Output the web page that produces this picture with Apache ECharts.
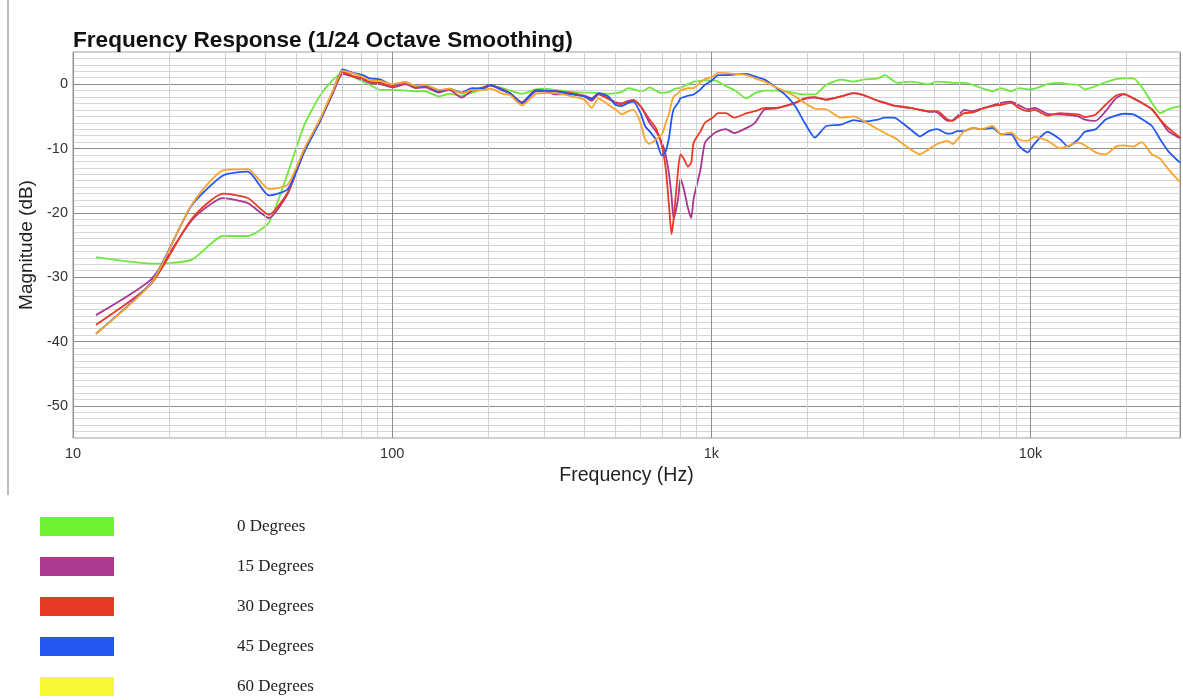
<!DOCTYPE html>
<html>
<head>
<meta charset="utf-8">
<script src="https://cdn.jsdelivr.net/npm/echarts@6/dist/echarts.min.js"></script>
<style>
  html, body { margin: 0; padding: 0; background: #fff; }
  #chart { width: 1183px; height: 700px; }
</style>
</head>
<body>
<div id="chart"></div>
<script>
// ---- Data ----
const seriesNames = ['0 Degrees', '15 Degrees', '30 Degrees', '45 Degrees', '60 Degrees'];
const lineColors = ['#6ee83c', '#a8368f', '#e83a25', '#2458ee', '#f7a52c'];
const legendColors = ['#70f232', '#ab3a8e', '#e63b24', '#2456f2', '#f8f835'];

const xTickValues = [10, 100, 1000, 10000];
const xTickLabels = ['10', '100', '1k', '10k'];
const xMinorGrid = [20, 30, 40, 50, 60, 70, 80, 90, 200, 300, 400, 500, 600, 700, 800, 900,
  2000, 3000, 4000, 5000, 6000, 7000, 8000, 9000, 20000];

const freqHz = [11.8, 17.6, 23.5, 29.5, 35.3, 41.1, 47.1, 53.1, 59.2, 65, 70, 75, 81, 85, 92, 100, 110, 119, 127, 140,
  151, 165, 178, 192, 203, 222, 234, 255, 282, 300, 325, 366, 400, 422, 443, 476, 500, 524, 550, 570,
  600, 620, 640, 670, 700, 720, 738, 750, 762, 787, 800, 820, 845, 865, 880, 925, 955, 1010, 1050, 1110,
  1180, 1290, 1370, 1470, 1580, 1700, 1830, 1960, 2110, 2290, 2550, 2790, 3000, 3330, 3500, 3700, 3820, 4200, 4500, 4800,
  5100, 5500, 5700, 5900, 6200, 6600, 7000, 7600, 8100, 8700, 9200, 9800, 10300, 11300, 12400, 13100, 14100, 14800, 16000, 17200,
  18500, 19600, 21000, 22300, 24000, 25500, 27000, 29400];

const deg0 = [-26.9, -27.9, -27.3, -23.6, -23.6, -21.5, -13.8, -6.3, -1.9, 0.6, 1.7, 1.2, 0.4, -0.1, -0.9, -0.9, -1.0, -1.1, -1.1, -1.9,
  -1.5, -1.8, -1.3, -0.8, -0.3, -0.6, -1.0, -1.5, -0.8, -0.7, -0.9, -1.2, -1.3, -1.3, -1.4, -1.5, -1.4, -1.2, -0.6, -0.8,
  -1.1, -0.9, -0.5, -1.0, -1.4, -1.3, -1.2, -1.0, -0.8, -0.6, -0.6, -0.3, 0.0, 0.2, 0.4, 0.5, 0.6, 0.6, 0.4, -0.3,
  -0.9, -2.2, -1.4, -1.0, -1.0, -1.1, -1.4, -1.6, -1.6, -0.1, 0.7, 0.4, 0.7, 0.9, 1.4, 0.6, 0.2, 0.4, 0.2, 0.0,
  0.4, 0.3, 0.2, 0.2, 0.2, -0.1, -0.6, -1.1, -0.6, -1.1, -0.6, -0.8, -0.7, 0.0, 0.2, 0.0, -0.1, -0.8, -0.3, 0.3,
  0.8, 0.9, 0.9, -0.4, -2.9, -4.5, -3.9, -3.4];

const deg15 = [-35.9, -30.3, -21.2, -17.7, -18.5, -20.8, -17.0, -10.3, -5.9, -1.6, 1.6, 1.2, 0.7, 0.2, 0.0, -0.5, 0.0, -0.6, -0.5, -1.3,
  -0.9, -2.1, -1.0, -0.7, -0.2, -1.0, -1.4, -3.0, -1.1, -1.1, -1.6, -1.5, -1.8, -2.2, -1.5, -2.2, -2.8, -3.0, -2.6, -2.5,
  -3.4, -4.6, -6.0, -7.3, -9.1, -11.1, -14.2, -17.3, -20.9, -17.8, -14.7, -16.3, -19.3, -20.8, -17.8, -13.2, -9.1, -7.8, -7.3, -7.0,
  -7.6, -6.8, -6.0, -3.9, -3.8, -3.4, -2.9, -2.3, -2.1, -2.4, -1.9, -1.4, -1.7, -2.6, -2.9, -3.3, -3.4, -3.7, -4.0, -4.3,
  -4.4, -5.7, -5.6, -5.0, -4.0, -4.2, -3.8, -3.3, -2.9, -2.7, -3.3, -3.9, -3.7, -4.6, -4.7, -4.8, -5.0, -5.5, -5.7, -4.2,
  -2.2, -1.6, -2.2, -2.9, -3.9, -5.6, -7.3, -8.4];

const deg30 = [-37.4, -31.0, -21.0, -17.0, -17.7, -20.3, -16.8, -10.2, -5.8, -1.4, 1.9, 1.3, 0.9, 0.4, 0.2, -0.4, 0.2, -0.5, -0.3, -1.1,
  -0.8, -1.4, -0.9, -0.5, -0.1, -0.8, -1.4, -2.8, -0.9, -1.0, -1.1, -1.4, -1.9, -2.6, -1.6, -2.3, -2.9, -3.1, -2.7, -2.5,
  -3.4, -4.5, -5.5, -6.8, -9.6, -13.2, -19.3, -23.3, -20.9, -13.2, -10.9, -11.6, -12.8, -12.2, -9.1, -7.3, -6.0, -5.2, -4.5, -4.5,
  -5.2, -4.5, -4.2, -3.7, -3.7, -3.4, -2.9, -2.2, -2.0, -2.4, -1.9, -1.4, -1.7, -2.6, -2.9, -3.3, -3.4, -3.7, -4.0, -4.2,
  -4.2, -5.5, -5.7, -5.2, -4.5, -4.4, -3.9, -3.4, -3.2, -2.9, -3.7, -4.2, -4.0, -4.9, -4.5, -4.6, -4.7, -5.1, -4.7, -3.2,
  -1.8, -1.5, -2.2, -2.9, -3.9, -5.5, -6.8, -8.3];

const deg45 = [-38.8, -30.8, -18.9, -14.2, -13.6, -17.3, -16.3, -10.5, -5.9, -1.3, 2.3, 1.8, 1.4, 0.9, 0.7, -0.1, 0.3, -0.4, -0.2, -1.1,
  -0.7, -1.3, -0.6, -0.7, -0.1, -0.9, -1.4, -2.9, -1.0, -1.0, -1.1, -1.6, -1.9, -2.4, -1.4, -1.9, -3.2, -3.4, -2.9, -2.7,
  -4.5, -6.5, -7.3, -8.6, -11.1, -10.4, -8.1, -5.5, -3.9, -2.9, -2.2, -2.0, -1.8, -1.7, -1.6, -0.8, -0.1, 0.7, 1.4, 1.4,
  1.5, 1.6, 1.2, 0.7, -0.4, -1.6, -3.4, -6.0, -8.3, -6.5, -6.3, -5.6, -5.8, -5.5, -5.2, -5.2, -5.4, -7.0, -8.1, -7.3,
  -7.0, -7.7, -7.6, -7.3, -7.3, -6.8, -7.0, -6.8, -7.8, -7.8, -9.6, -10.6, -9.2, -7.4, -8.6, -9.7, -8.6, -7.4, -7.0, -5.5,
  -4.9, -4.6, -4.7, -5.4, -6.5, -8.6, -10.4, -12.2];

const deg60 = [-38.8, -30.9, -18.8, -13.4, -13.2, -16.3, -15.6, -10.0, -5.6, -1.2, 2.1, 1.7, 1.1, 0.6, 0.5, 0.0, 0.3, -0.3, -0.1, -0.9,
  -0.7, -1.4, -0.9, -0.9, -0.7, -1.5, -1.7, -3.3, -1.5, -1.4, -1.4, -1.9, -2.4, -3.7, -2.2, -3.2, -3.9, -4.7, -4.2, -4.0,
  -6.0, -8.6, -9.3, -8.6, -7.8, -6.0, -4.5, -2.9, -1.9, -1.4, -1.0, -0.8, -0.6, -0.6, -0.6, 0.3, 0.8, 1.2, 1.8, 1.7,
  1.6, 1.4, 0.9, 0.4, -0.4, -1.1, -1.9, -2.9, -3.8, -3.9, -5.2, -5.0, -5.7, -7.0, -7.6, -8.2, -8.6, -10.1, -10.9, -10.1,
  -9.3, -8.8, -9.3, -8.6, -7.3, -6.8, -7.0, -6.5, -7.8, -7.5, -8.6, -8.8, -8.2, -8.8, -10.0, -9.6, -9.1, -9.5, -10.6, -10.9,
  -9.7, -9.5, -9.7, -9.0, -10.9, -11.6, -13.2, -15.2];

const seriesValues = [deg0, deg15, deg30, deg45, deg60];

// ---- Chart ----
const chart = echarts.init(document.getElementById('chart'), null, { renderer: 'canvas' });

const FONT = "'Liberation Sans', Arial, sans-serif";

const lineSeries = seriesNames.map((name, i) => ({
  name: name,
  type: 'line',
  data: freqHz.map((f, k) => [f, seriesValues[i][k]]),
  showSymbol: false,
  smooth: 0.2,
  lineStyle: { color: lineColors[i], width: 1.8 },
  itemStyle: { color: lineColors[i] },
  emphasis: { disabled: true },
  z: 3 + i
}));

const gridSeries = {
  name: 'minor-grid',
  type: 'line',
  data: [],
  silent: true,
  z: 1,
  markLine: {
    silent: true,
    symbol: ['none', 'none'],
    label: { show: false },
    lineStyle: { color: '#d2d2d2', width: 1, type: 'solid' },
    emphasis: { disabled: true },
    animation: false,
    data: xMinorGrid.map(v => ({ xAxis: v }))
  }
};

const option = {
  animation: false,
  backgroundColor: '#ffffff',
  title: {
    text: 'Frequency Response (1/24 Octave Smoothing)',
    left: 73,
    top: 29,
    padding: 0,
    textStyle: { fontFamily: FONT, fontSize: 22.6, fontWeight: 'bold', color: '#111' }
  },
  legend: {
    orient: 'vertical',
    left: 40,
    top: 517,
    height: 183,
    padding: 0,
    itemWidth: 74,
    itemHeight: 19,
    itemGap: 21,
    icon: 'rect',
    selectedMode: false,
    data: seriesNames.map((n, i) => ({
      name: n,
      icon: 'rect',
      itemStyle: { color: legendColors[i], borderWidth: 0 }
    })),
    textStyle: {
      fontFamily: "'Liberation Serif', 'Times New Roman', serif",
      fontSize: 17,
      color: '#222',
      lineHeight: 17,
      padding: [0, 0, 0, 118]
    }
  },
  grid: {
    left: 73,
    top: 52,
    right: 0,
    bottom: 262,
    show: true,
    borderColor: '#9a9a9a',
    borderWidth: 1,
    backgroundColor: '#ffffff'
  },
  xAxis: {
    type: 'log',
    logBase: 10,
    min: 10,
    max: 29400,
    name: 'Frequency (Hz)',
    nameLocation: 'middle',
    nameGap: 27,
    nameTextStyle: { fontFamily: FONT, fontSize: 19.5, color: '#222' },
    axisLine: { show: false },
    axisTick: { show: false },
    axisLabel: {
      fontFamily: FONT,
      fontSize: 14.5,
      color: '#333',
      margin: 8,
      formatter: function (v) {
        for (let i = 0; i < xTickValues.length; i++) {
          if (Math.abs(v - xTickValues[i]) < 1e-6 * xTickValues[i]) return xTickLabels[i];
        }
        return '';
      }
    },
    splitLine: { show: true, lineStyle: { color: '#8e8e8e', width: 1 } }
  },
  yAxis: {
    type: 'value',
    min: -55,
    max: 5,
    interval: 5,
    name: 'Magnitude (dB)',
    nameLocation: 'middle',
    nameRotate: 90,
    nameGap: 33,
    nameTextStyle: { fontFamily: FONT, fontSize: 19, color: '#222' },
    axisLine: { show: false },
    axisTick: { show: false },
    axisLabel: {
      fontFamily: FONT,
      fontSize: 14.5,
      color: '#333',
      margin: 5,
      formatter: function (v) {
        return (Math.round(v) % 10 === 0) ? String(Math.round(v)) : '';
      }
    },
    splitLine: { show: true, lineStyle: { color: ['#d2d2d2', '#8e8e8e'], width: 1 } },
    minorTick: { show: false, splitNumber: 5 },
    minorSplitLine: { show: true, lineStyle: { color: '#d6d6d6', width: 1 } }
  },
  graphic: [
    {
      type: 'line',
      shape: { x1: 8, y1: 0, x2: 8, y2: 495 },
      style: { stroke: '#bdbdbd', lineWidth: 2 },
      silent: true
    }
  ],
  series: [gridSeries].concat(lineSeries)
};

chart.setOption(option);
</script>
</body>
</html>
